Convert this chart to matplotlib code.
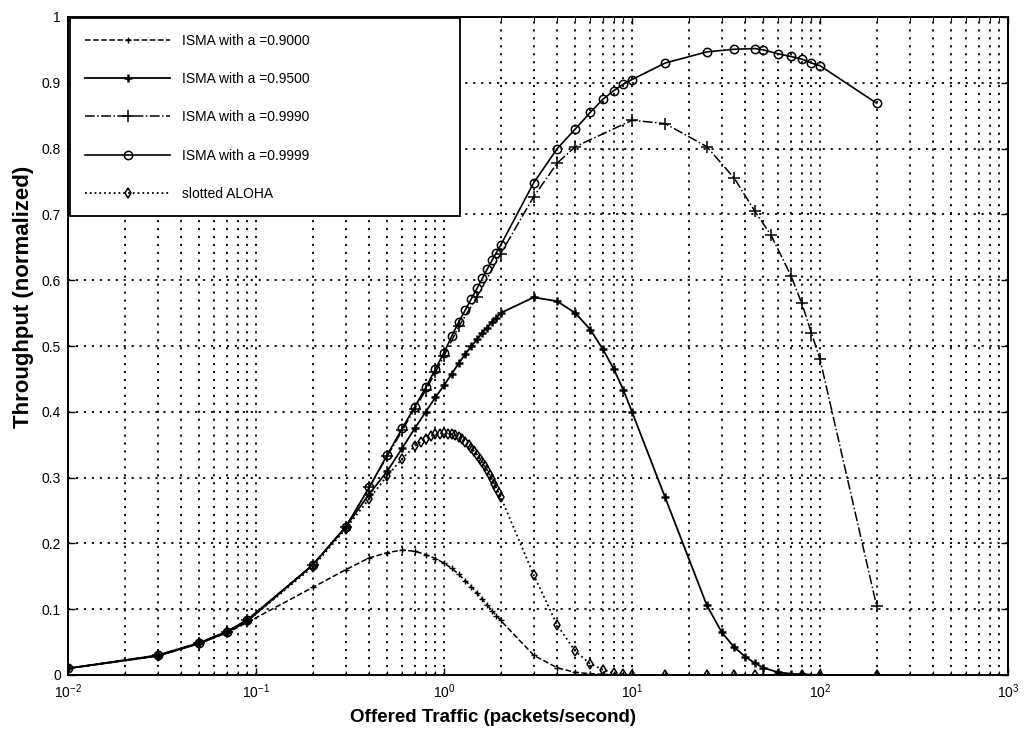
import matplotlib
matplotlib.use("Agg")
import matplotlib.pyplot as plt
from matplotlib.ticker import FixedLocator, LogLocator, NullFormatter

plt.rcParams['font.family'] = ['Liberation Sans', 'DejaVu Sans']

# Offered traffic G (packets/second) and normalized throughput S for each scheme
g_isma_900 = [0.01, 0.03, 0.05, 0.07, 0.09, 0.2, 0.3, 0.4, 0.5, 0.6, 0.7, 0.8, 0.9, 1.0,
              1.1, 1.2, 1.3, 1.4, 1.5, 1.6, 1.7, 1.8, 1.9, 2.0, 3, 4, 5, 6, 7, 8,
              10, 15, 25, 35, 50, 70, 100, 200]
s_isma_900 = [0.010, 0.029, 0.048, 0.064, 0.080, 0.133, 0.160, 0.178, 0.186, 0.190, 0.188, 0.183, 0.177, 0.170,
              0.162, 0.153, 0.143, 0.134, 0.124, 0.115, 0.106, 0.098, 0.090, 0.083, 0.030, 0.011, 0.004, 0.002, 0.001, 0.0,
              0.0, 0.0, 0.0, 0.0, 0.0, 0.0, 0.0, 0.0]

g_isma_950 = [0.01, 0.03, 0.05, 0.07, 0.09, 0.2, 0.3, 0.4, 0.5, 0.6, 0.7, 0.8, 0.9, 1.0,
              1.1, 1.2, 1.3, 1.4, 1.5, 1.6, 1.7, 1.8, 1.9, 2.0, 3, 4, 5, 6, 7, 8, 9, 10,
              15, 25, 30, 35, 40, 45, 50, 60, 70, 80, 100, 200]
s_isma_950 = [0.010, 0.029, 0.048, 0.065, 0.082, 0.167, 0.225, 0.275, 0.310, 0.345, 0.375, 0.400, 0.422, 0.440,
              0.458, 0.474, 0.488, 0.500, 0.510, 0.520, 0.528, 0.536, 0.543, 0.550,
              0.574, 0.568, 0.550, 0.525, 0.495, 0.465, 0.433, 0.400,
              0.270, 0.106, 0.065, 0.042, 0.028, 0.018, 0.011, 0.004, 0.002, 0.001, 0.0, 0.0]

g_isma_999 = [0.01, 0.03, 0.05, 0.07, 0.09, 0.2, 0.3, 0.4, 0.5, 0.6, 0.7, 0.8, 0.9, 1.0,
              1.2, 1.5, 2, 3, 4, 5, 10, 15, 25, 35, 45, 55, 70, 80, 90, 100, 200]
s_isma_999 = [0.010, 0.030, 0.049, 0.066, 0.084, 0.167, 0.225, 0.285, 0.333, 0.372, 0.405, 0.433, 0.460, 0.485,
              0.530, 0.575, 0.640, 0.727, 0.778, 0.803, 0.843, 0.838, 0.803, 0.755, 0.705, 0.668,
              0.607, 0.565, 0.520, 0.480, 0.105]

g_isma_9999 = [0.01, 0.03, 0.05, 0.07, 0.09, 0.2, 0.3, 0.4, 0.5, 0.6, 0.7, 0.8, 0.9, 1.0,
               1.1, 1.2, 1.3, 1.4, 1.5, 1.6, 1.7, 1.8, 1.9, 2.0, 3, 4, 5, 6, 7, 8, 9, 10,
               15, 25, 35, 45, 50, 60, 70, 80, 90, 100, 200]
s_isma_9999 = [0.010, 0.030, 0.049, 0.066, 0.084, 0.167, 0.225, 0.285, 0.335, 0.375, 0.408, 0.437, 0.465, 0.490,
               0.515, 0.537, 0.555, 0.572, 0.588, 0.603, 0.617, 0.630, 0.642, 0.653,
               0.748, 0.800, 0.830, 0.855, 0.875, 0.888, 0.898, 0.905,
               0.930, 0.947, 0.951, 0.952, 0.950, 0.944, 0.940, 0.936, 0.930, 0.926, 0.869]

g_aloha = [0.01, 0.03, 0.05, 0.07, 0.09, 0.2, 0.3, 0.4, 0.5, 0.6, 0.7,
           0.75, 0.8, 0.85, 0.9, 0.95, 1.0, 1.05, 1.1, 1.15, 1.2, 1.25, 1.3, 1.35, 1.4, 1.45,
           1.5, 1.55, 1.6, 1.65, 1.7, 1.75, 1.8, 1.85, 1.9, 1.95, 2.0,
           3, 4, 5, 6, 7, 8, 9, 10, 15, 25, 35, 45, 60, 80, 100, 200]
s_aloha = [0.010, 0.029, 0.048, 0.065, 0.082, 0.164, 0.222, 0.268, 0.303, 0.329, 0.348,
           0.354, 0.359, 0.363, 0.366, 0.367, 0.368, 0.367, 0.366, 0.364, 0.361, 0.358, 0.354, 0.350, 0.345, 0.340,
           0.335, 0.329, 0.323, 0.317, 0.311, 0.304, 0.298, 0.291, 0.284, 0.277, 0.271,
           0.152, 0.076, 0.036, 0.017, 0.008, 0.003, 0.001, 0.0, 0.0, 0.0, 0.0, 0.0, 0.0, 0.0, 0.0, 0.0]

series_labels = ['ISMA with a =0.9000', 'ISMA with a =0.9500', 'ISMA with a =0.9990',
                 'ISMA with a =0.9999', 'slotted ALOHA']
y_ticks = [0, 0.1, 0.2, 0.3, 0.4, 0.5, 0.6, 0.7, 0.8, 0.9, 1]
y_tick_labels = ['0', '0.1', '0.2', '0.3', '0.4', '0.5', '0.6', '0.7', '0.8', '0.9', '1']

fig = plt.figure(figsize=(10.24, 7.30), dpi=100)
ax = fig.add_axes([68 / 1024, 1 - 675 / 730, 940 / 1024, 658 / 730])

ax.plot(g_isma_900, s_isma_900, color='k', ls='--', lw=1.1, marker='+', ms=5, mew=1.0,
        label=series_labels[0])
ax.plot(g_isma_950, s_isma_950, color='k', ls='-', lw=1.3, marker='+', ms=6, mew=1.8,
        label=series_labels[1])
ax.plot(g_isma_999, s_isma_999, color='k', ls='-.', lw=1.1, marker='+', ms=8, mew=1.1,
        label=series_labels[2])
ax.plot(g_isma_9999, s_isma_9999, color='k', ls='-', lw=1.2, marker='o', ms=6,
        mfc='none', mew=1.1, label=series_labels[3])
ax.plot(g_aloha, s_aloha, color='k', ls=':', lw=1.3, marker='d', ms=5,
        mfc='none', mew=1.1, label=series_labels[4])

ax.set_xscale('log')
ax.set_xlim(1e-2, 1e3)
ax.set_ylim(0, 1)
ax.xaxis.set_major_locator(LogLocator(base=10, numticks=10))
ax.xaxis.set_minor_locator(LogLocator(base=10, subs=range(2, 10), numticks=100))
ax.xaxis.set_minor_formatter(NullFormatter())
ax.yaxis.set_major_locator(FixedLocator(y_ticks))
ax.set_yticklabels(y_tick_labels)

ax.grid(True, which='both', axis='x', color='k', ls=(0, (1.2, 3.2)), lw=1.3)
ax.grid(True, which='major', axis='y', color='k', ls=(0, (1.2, 3.2)), lw=1.3)

ax.tick_params(which='both', direction='in', top=True, right=True, labelsize=10, pad=5)
ax.tick_params(which='major', length=5, width=1.0)
ax.tick_params(which='minor', length=3, width=0.8)
for sp in ax.spines.values():
    sp.set_linewidth(1.4)

ax.set_xlabel('Offered Traffic (packets/second)', fontsize=13.5, fontweight='bold')
ax.set_ylabel('Throughput (normalized)', fontsize=16, fontweight='bold')
ax.xaxis.set_label_coords(0.452, -0.052)
ax.yaxis.set_label_coords(-0.036, 0.574)

leg = ax.legend(loc='upper left', bbox_to_anchor=(0.002, 0.998, 0.415, 0.0), mode='expand',
                fontsize=10, handlelength=6.1, handletextpad=0.85, labelspacing=1.75,
                borderpad=1.1, fancybox=False, framealpha=1, borderaxespad=0)
leg.get_frame().set_edgecolor('k')
leg.get_frame().set_linewidth(1.3)

fig.savefig('out.png', dpi=100, facecolor='white')
